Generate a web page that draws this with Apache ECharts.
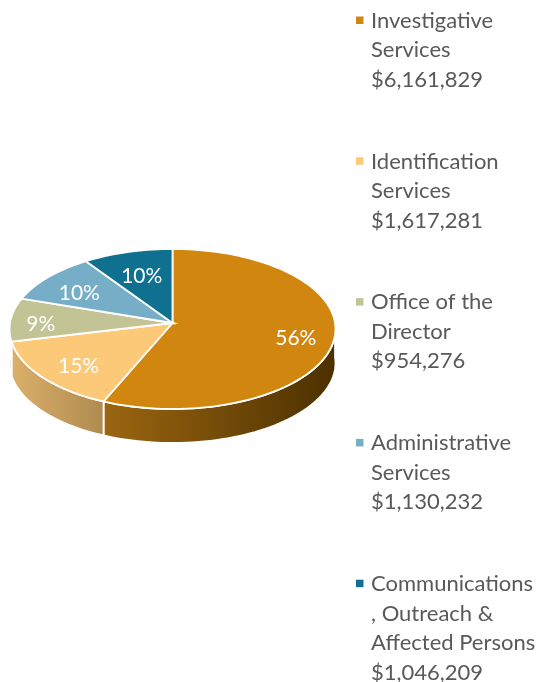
<!DOCTYPE html>
<html lang="en">
<head>
	<meta charset="UTF-8">
	<title>Budget by division</title>
	<script src="https://cdn.jsdelivr.net/npm/echarts@6/dist/echarts.min.js"></script>
	<style>html,body{margin:0;background:#fff}</style>
</head>
<body>
	<div id="app" style="width:539px;height:682px"></div>
	<script>
		var categories=["Investigative\nServices","Identification\nServices","Office of the\nDirector","Administrative\nServices","Communications\n, Outreach &\nAffected Persons"];
		var values=[6161829,1617281,954276,1130232,1046209];
		var colors=["#D0860F","#FBC978","#C3C495","#75AEC6","#0F7090"];
		var wallColors=[["#9C6610","#4B3000"],["#DBB06A","#AF8A50"],["#A6A67E","#A6A67E"],["#5E8CA0","#5E8CA0"],["#0B5570","#0B5570"]];
		var labelNudge=[[2,-3],[1,-2],[-8,-2],[6,1],[6,5]];

		// ellipse of the top face, apex sits a little above its centre (fake perspective)
		var cx=172.5,cy=329,rx=163,ry=80,apexY=323,depth=34;
		var total=values.reduce(function(a,b){return a+b},0);

		function startAngle(i){
			var sum=0;
			for(var k=0;k<i;k++)sum+=values[k];
			return sum/total*360;
		}
		// ray from the apex out to the ellipse
		function rimPoint(deg,dy){
			var r=deg*Math.PI/180,s=Math.sin(r),c=Math.cos(r),d=(apexY-cy)/ry;
			var t=c*d+Math.sqrt(c*c*d*d-d*d+1);
			return [cx+rx*s*t,apexY-ry*c*t+(dy||0)];
		}
		function arc(from,to,dy){
			var pts=[],n=Math.max(2,Math.ceil((to-from)/2));
			for(var j=0;j<=n;j++)pts.push(rimPoint(from+(to-from)*j/n,dy));
			return pts;
		}

		function renderWall(params,api){
			var i=params.dataIndex;
			// only the front half of the rim can be seen
			var from=Math.max(startAngle(i),90),to=Math.min(startAngle(i)+api.value(0)/total*360,270);
			if(to<=from)return {type:"group",children:[]};
			return {
				type:"polygon",
				shape:{points:arc(from,to,0).concat(arc(from,to,depth).reverse())},
				style:{
					fill:new echarts.graphic.LinearGradient(0,0,1,0,[
						{offset:0,color:wallColors[i][0]},
						{offset:1,color:wallColors[i][1]}
					]),
					stroke:"#fff",
					lineWidth:1.8
				},
				silent:true
			};
		}

		function renderTop(params,api){
			var i=params.dataIndex,from=startAngle(i),size=api.value(0)/total*360;
			var mid=(from+size/2)*Math.PI/180;
			return {
				type:"group",
				children:[{
					type:"polygon",
					shape:{points:[[cx,apexY]].concat(arc(from,from+size,0))},
					style:{fill:colors[i],stroke:"#fff",lineWidth:1.8},
					silent:true
				},{
					type:"text",
					x:cx+rx*0.76*Math.sin(mid)+labelNudge[i][0],
					y:cy-ry*0.76*Math.cos(mid)+labelNudge[i][1],
					style:{
						text:Math.round(api.value(0)/total*100)+"%",
						fill:"#fff",
						font:"21px Lato",
						align:"center",
						verticalAlign:"middle"
					},
					silent:true
				}]
			};
		}

		// legend on the right: square and text block per division
		var legendItems=[];
		categories.forEach(function(name,i){
			var top=6+i*140.8;
			legendItems.push({
				type:"rect",
				shape:{x:356,y:top+10.5,width:7.5,height:7.5},
				style:{fill:colors[i]}
			});
			legendItems.push({
				type:"text",
				x:371,
				y:top,
				style:{
					text:name+"\n$"+values[i].toLocaleString("en-US"),
					fill:"#595959",
					font:"22px Lato",
					lineHeight:29.5
				}
			});
		});

		var myChart=echarts.init(document.getElementById("app"));
		var option={
			animation:false,
			backgroundColor:"#fff",
			graphic:{elements:legendItems},
			series:[
				{type:"custom",coordinateSystem:"none",z:1,renderItem:renderWall,data:values},
				{type:"custom",coordinateSystem:"none",z:2,renderItem:renderTop,data:values}
			]
		};
		myChart.setOption(option);
	</script>
</body>
</html>
